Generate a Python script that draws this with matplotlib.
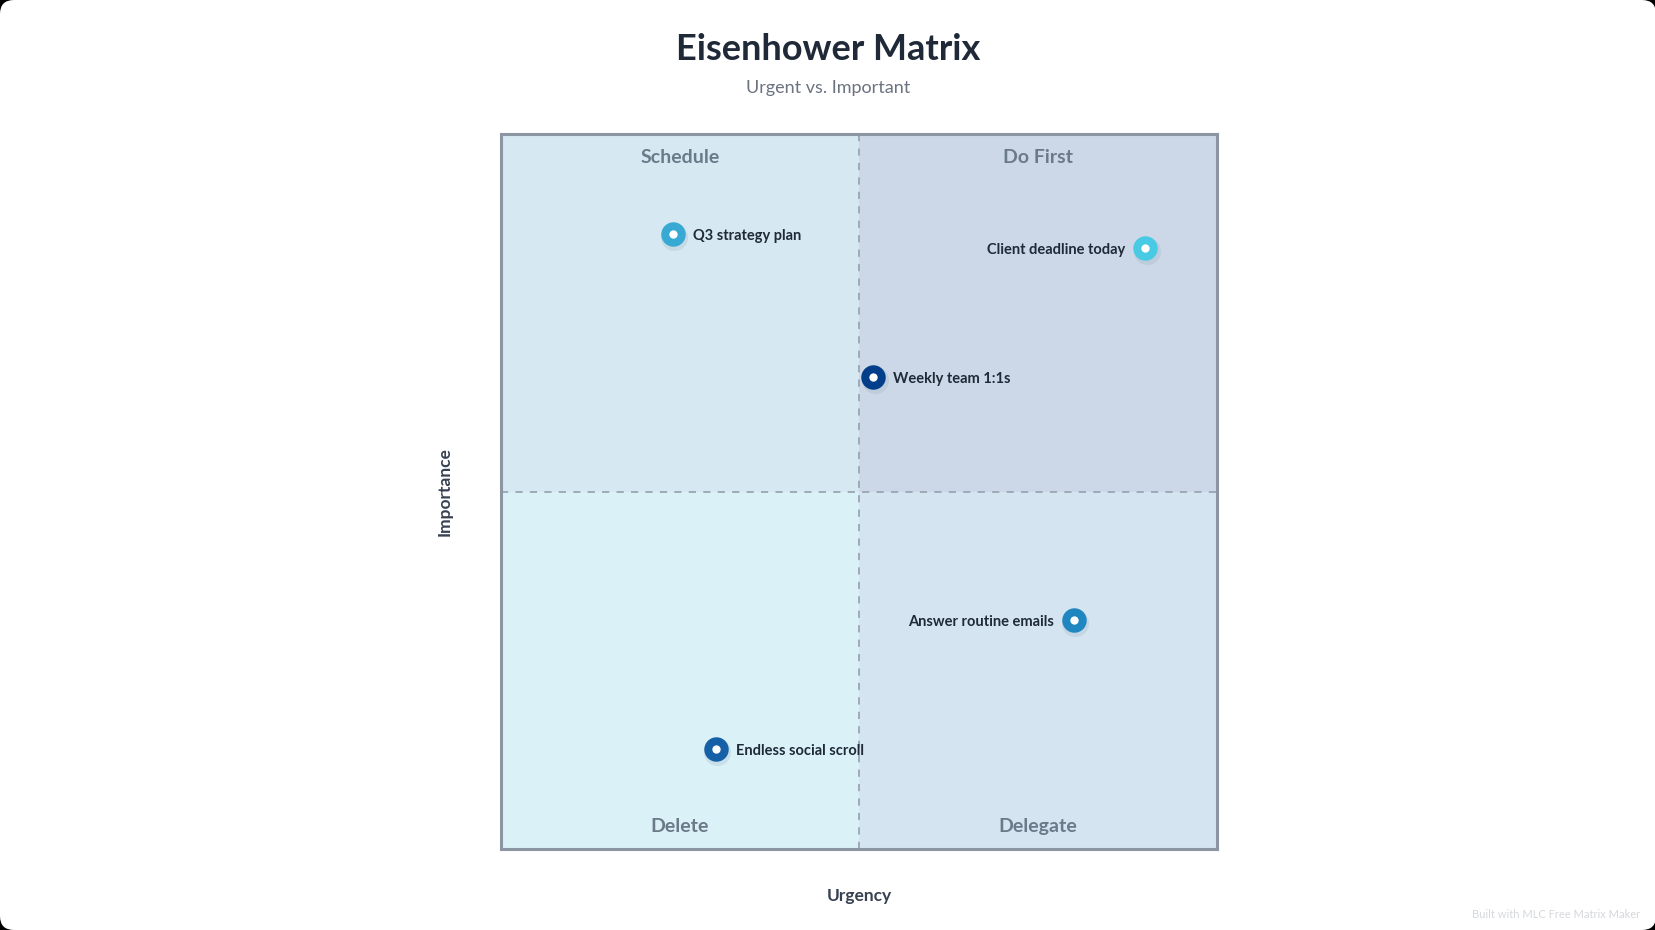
import matplotlib
matplotlib.use("Agg")
import matplotlib.pyplot as plt
from matplotlib.patches import Rectangle, FancyBboxPatch
from matplotlib.transforms import IdentityTransform

plt.rcParams["font.family"] = ["Lato", "DejaVu Sans"]

# data
tasks = ["Q3 strategy plan", "Client deadline today", "Weekly team 1:1s",
         "Answer routine emails", "Endless social scroll"]
urgency = [24, 90, 52, 80, 30]
importance = [86, 84, 66, 32, 14]
task_colors = ["#38A9D2", "#48CAE4", "#023E8A", "#1F86C0", "#1560A6"]

quadrant_names = ["Schedule", "Do First", "Delete", "Delegate"]
quadrant_colors = ["#D6E9F3", "#CCD8E7", "#DAF1F8", "#D4E5F1"]

W, H = 1656, 930
fig = plt.figure(figsize=(W / 100, H / 100), dpi=100, facecolor="#000000")

# white card with rounded corners
card = FancyBboxPatch((0, 0), W, H, boxstyle="round,pad=0,rounding_size=14",
                      transform=IdentityTransform(), facecolor="white",
                      edgecolor="none", zorder=-5)
fig.patches.append(card)

ax = fig.add_axes([501 / W, 1 - 849 / H, 716 / W, 715 / H])
ax.set_xlim(0, 100)
ax.set_ylim(0, 100)
ax.set_facecolor("none")

# quadrants: top-left, top-right, bottom-left, bottom-right
origins = [(0, 50), (50, 50), (0, 0), (50, 0)]
for (x0, y0), c in zip(origins, quadrant_colors):
    ax.add_patch(Rectangle((x0, y0), 50, 50, facecolor=c, edgecolor="none", zorder=0))

ax.axvline(50, color="#9AA6B2", lw=1.3, ls=(0, (4, 4)), zorder=1)
ax.axhline(50, color="#9AA6B2", lw=1.3, ls=(0, (4, 4)), zorder=1)

label_pos = [(25, 96.7), (75, 96.7), (25, 3.1), (75, 3.1)]
for (qx, qy), name in zip(label_pos, quadrant_names):
    ax.text(qx, qy, name, ha="center", va="center", fontsize=14, fontweight="bold",
            color="#6B7A89", zorder=2)

# points
for name, x, y, c in zip(tasks, urgency, importance, task_colors):
    ax.scatter([x + 0.2], [y - 0.4], s=380, color="#8FA3B5", alpha=0.22,
               linewidths=0, zorder=3)
    ax.scatter([x], [y], s=310, color=c, linewidths=0, zorder=4)
    ax.scatter([x], [y], s=36, color="white", linewidths=0, zorder=5)
    if x > 75:
        ax.annotate(name, (x, y), xytext=(-14.5, -1.2), textcoords="offset points",
                    ha="right", va="center", fontsize=10.5, fontweight="bold",
                    color="#1F2937", zorder=6)
    else:
        ax.annotate(name, (x, y), xytext=(14.5, -1.2), textcoords="offset points",
                    ha="left", va="center", fontsize=10.5, fontweight="bold",
                    color="#1F2937", zorder=6)

ax.set_xticks([])
ax.set_yticks([])
for s in ax.spines.values():
    s.set_color("#8C96A2")
    s.set_linewidth(2.2)
    s.set_zorder(7)

ax.set_xlabel("Urgency", fontsize=12.5, fontweight="bold", color="#374151", labelpad=28)
ax.set_ylabel("Importance", fontsize=12.5, fontweight="bold", color="#374151", labelpad=35)

fig.text(0.5, 1 - 49.5 / H, "Eisenhower Matrix", ha="center", va="center",
         fontsize=26, fontweight="bold", color="#1F2937")
fig.text(0.5, 1 - 88.5 / H, "Urgent vs. Important", ha="center", va="center",
         fontsize=13, color="#6B7280")
fig.text(1640 / W, 1 - 914 / H, "Built with MLC Free Matrix Maker", ha="right",
         va="center", fontsize=8, color="#D6D8DC")

fig.savefig("out.png", dpi=100, facecolor=fig.get_facecolor())
